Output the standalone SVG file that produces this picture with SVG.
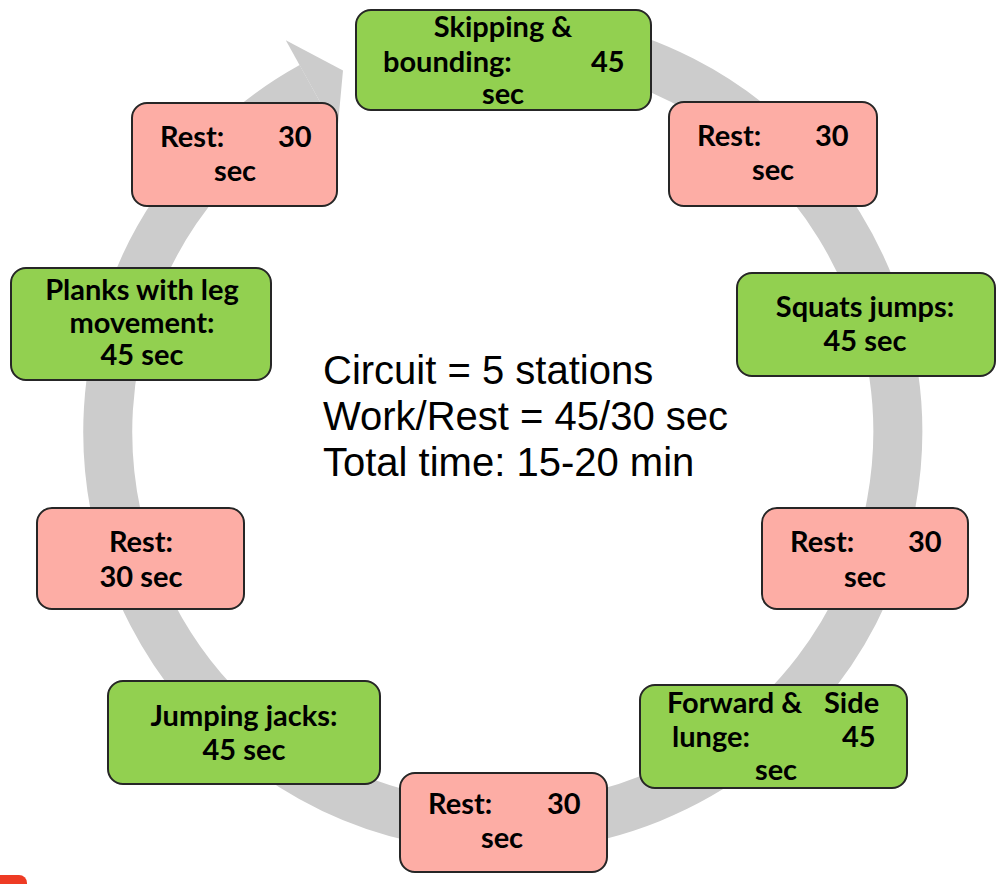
<svg xmlns="http://www.w3.org/2000/svg" width="1002" height="884" viewBox="0 0 1002 884">
<style>
.box{stroke:#262626;stroke-width:2}
.work{fill:#92D050}
.rest{fill:#FDADA5}
.t{font-family:Lato,"Open Sans","Liberation Sans",sans-serif;font-weight:bold;font-size:29px;fill:#000}
.c{text-anchor:middle}
.main{font-family:"Liberation Sans",Arial,sans-serif;font-size:40px;fill:#000}
</style>
<rect x="-10" y="875" width="37" height="20" rx="8" fill="#EE3B24"/>
<g id="connectors">
<path d="M 400.8 50.5 A 395 395 0 1 1 311.5 86.5" fill="none" stroke="#CCCCCC" stroke-width="49"/>
<polygon points="285.8,40.2 343,70.5 337.2,132.9" fill="#CCCCCC"/>
</g>
<g id="skipping">
<rect class="box work" x="356" y="10" width="295" height="100" rx="15"/>
<text class="t"><tspan class="c" x="503" y="37">Skipping &amp;</tspan><tspan x="383" y="72">bounding:</tspan><tspan x="591" y="72">45</tspan><tspan class="c" x="503" y="104">sec</tspan></text>
</g>
<g id="rest1">
<rect class="box rest" x="669" y="102" width="208" height="104" rx="15"/>
<text class="t"><tspan x="697" y="146">Rest:</tspan><tspan x="815" y="146">30</tspan><tspan class="c" x="773" y="180">sec</tspan></text>
</g>
<g id="squats">
<rect class="box work" x="737" y="273" width="258" height="103" rx="15"/>
<text class="t c"><tspan x="865" y="317">Squats jumps:</tspan><tspan x="865" y="351">45 sec</tspan></text>
</g>
<g id="rest2">
<rect class="box rest" x="762" y="508" width="206" height="101" rx="15"/>
<text class="t"><tspan x="790" y="552">Rest:</tspan><tspan x="908" y="552">30</tspan><tspan class="c" x="865" y="587">sec</tspan></text>
</g>
<g id="lunge">
<rect class="box work" x="640" y="685" width="267" height="103" rx="15"/>
<text class="t"><tspan x="667" y="713">Forward &amp;</tspan><tspan x="824" y="713">Side</tspan><tspan x="672" y="747">lunge:</tspan><tspan x="842" y="747">45</tspan><tspan class="c" x="776" y="780">sec</tspan></text>
</g>
<g id="rest3">
<rect class="box rest" x="400" y="773" width="207" height="99" rx="15"/>
<text class="t"><tspan x="428" y="814">Rest:</tspan><tspan x="547" y="814">30</tspan><tspan class="c" x="502" y="848">sec</tspan></text>
</g>
<g id="jumping">
<rect class="box work" x="108" y="681" width="272" height="103" rx="15"/>
<text class="t c"><tspan x="244" y="726">Jumping jacks:</tspan><tspan x="244" y="760">45 sec</tspan></text>
</g>
<g id="rest4">
<rect class="box rest" x="37" y="508" width="207" height="101" rx="15"/>
<text class="t c"><tspan x="141" y="552">Rest:</tspan><tspan x="141" y="587">30 sec</tspan></text>
</g>
<g id="planks">
<rect class="box work" x="11" y="268" width="260" height="112" rx="15"/>
<text class="t c"><tspan x="142" y="300">Planks with leg</tspan><tspan x="142" y="333">movement:</tspan><tspan x="142" y="365">45 sec</tspan></text>
</g>
<g id="rest5">
<rect class="box rest" x="132" y="103" width="205" height="103" rx="15"/>
<text class="t"><tspan x="160" y="147">Rest:</tspan><tspan x="278" y="147">30</tspan><tspan class="c" x="235" y="181">sec</tspan></text>
</g>
<g id="summary">
<text class="main"><tspan x="323" y="384">Circuit = 5 stations</tspan><tspan x="323" y="430">Work/Rest = 45/30 sec</tspan><tspan x="323" y="476">Total time: 15-20 min</tspan></text>
</g>
</svg>
